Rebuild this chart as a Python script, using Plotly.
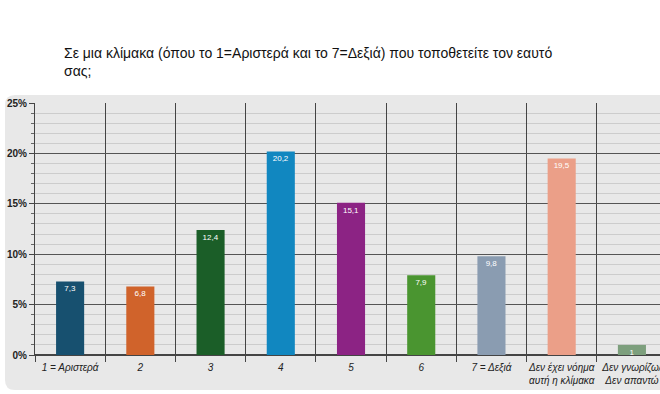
import plotly.graph_objects as go

categories = ["1 = Αριστερά", "2", "3", "4", "5", "6", "7 = Δεξιά",
              "Δεν έχει νόημα<br>αυτή η κλίμακα", "Δεν γνωρίζω/<br>Δεν απαντώ"]
values = [7.3, 6.8, 12.4, 20.2, 15.1, 7.9, 9.8, 19.5, 1.0]
value_labels = ["7,3", "6,8", "12,4", "20,2", "15,1", "7,9", "9,8", "19,5", "1"]
colors = ["#17506f", "#d0632b", "#1b5e28", "#1187c0", "#8c2384",
          "#4a9530", "#8a9cb1", "#eb9f88", "#7d9f7d"]
y_ticks = [0, 5, 10, 15, 20, 25]
title = "Σε μια κλίμακα (όπου το 1=Αριστερά και το 7=Δεξιά) που τοποθετείτε τον εαυτό<br>σας;"

W, H = 660, 394
L, R, T, B = 35, 0, 103, 39
pw, ph = W - L - R, H - T - B

def px2x(p):
    return (p - L) / pw

def px2y(p):
    return (H - B - p) / ph

fig = go.Figure(go.Bar(
    x=categories, y=values, width=0.4,
    marker=dict(color=colors, line=dict(width=0)),
    text=value_labels, textposition="inside", insidetextanchor="end",
    textangle=0, textfont=dict(color="white", size=8, family="Liberation Sans"),
    cliponaxis=False,
))

# rounded gray panel
x0, x1, y0, y1 = 5, 700, 95, 390
r = 10
path = (f"M {px2x(x0 + r)} {px2y(y0)} L {px2x(x1)} {px2y(y0)} L {px2x(x1)} {px2y(y1)} "
        f"L {px2x(x0 + r)} {px2y(y1)} Q {px2x(x0)} {px2y(y1)} {px2x(x0)} {px2y(y1 - r)} "
        f"L {px2x(x0)} {px2y(y0 + r)} Q {px2x(x0)} {px2y(y0)} {px2x(x0 + r)} {px2y(y0)} Z")
fig.add_shape(type="path", path=path, xref="paper", yref="paper",
              fillcolor="#e8e8e8", line=dict(width=0), layer="below")

fig.add_annotation(text=title, xref="paper", yref="paper", x=px2x(62), y=px2y(43),
                   xanchor="left", yanchor="top", align="left", showarrow=False,
                   font=dict(size=14, color="#111", family="Liberation Sans"))

fig.update_layout(
    width=W, height=H, margin=dict(l=L, r=R, t=T, b=B, autoexpand=False),
    paper_bgcolor="white", plot_bgcolor="rgba(0,0,0,0)",
    showlegend=False, bargap=0.6,
    font=dict(family="Liberation Sans", color="#222"),
    uniformtext=dict(minsize=8, mode="show"),
)
fig.update_xaxes(
    range=[-0.5, 8.4], tickson="boundaries", showgrid=True, gridcolor="#444", gridwidth=1,
    ticks="outside", ticklen=6, tickcolor="#444", showline=True, linecolor="#444",
    tickangle=0, automargin=False, ticklabelstandoff=3,
    tickfont=dict(size=10, color="#222", style="italic"), fixedrange=True,
)
fig.update_yaxes(
    range=[0, 25], tickvals=y_ticks, ticktext=[f"{v}%" for v in y_ticks],
    showgrid=True, gridcolor="#555", gridwidth=1, zeroline=True, zerolinecolor="#444",
    ticks="outside", ticklen=5, tickcolor="#444", showline=True, linecolor="#444",
    automargin=False,
    tickfont=dict(size=10, color="#222", weight="bold"),
    minor=dict(dtick=1, ticks="outside", ticklen=3, tickcolor="#666",
               showgrid=True, gridcolor="#cccccc", gridwidth=1),
)

fig.write_html("out.html")
